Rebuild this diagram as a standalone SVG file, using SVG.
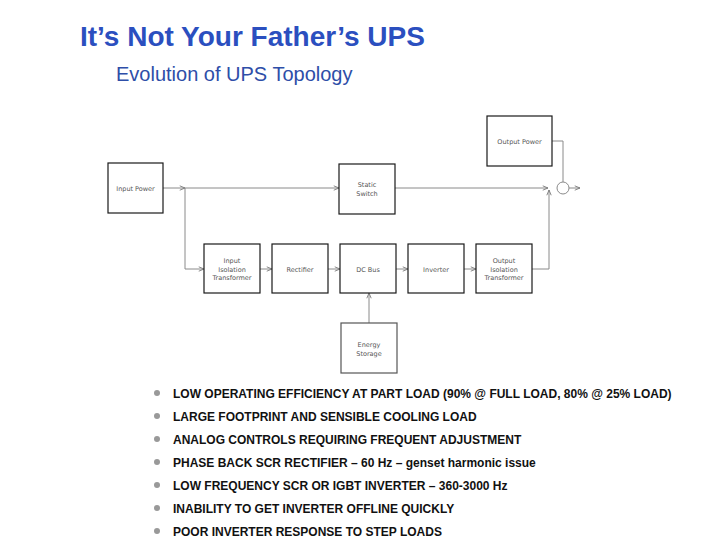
<svg xmlns="http://www.w3.org/2000/svg" width="720" height="540" viewBox="0 0 720 540">
<style>
.box{fill:#fff;stroke:#1a1a1a;stroke-width:1.2}
.lbl{font-family:"DejaVu Sans","Liberation Sans",sans-serif;font-size:6.5px;fill:#555;text-anchor:middle}
.ln{fill:none;stroke:#8a8a8a;stroke-width:1}
.bt{font-family:"Liberation Sans",Arial,sans-serif;font-size:12px;font-weight:bold;fill:#111}
.dot{fill:#999}
</style>
<defs>
<marker id="ah" viewBox="0 0 8 8" refX="7" refY="4" markerWidth="7" markerHeight="7" orient="auto" markerUnits="userSpaceOnUse">
<path d="M1,1.5 L7,4 L1,6.5" fill="none" stroke="#777" stroke-width="1"/>
</marker>
</defs>
<rect width="720" height="540" fill="#fff"/>
<text x="80" y="46" font-family="Liberation Sans,Arial,sans-serif" font-size="28" font-weight="bold" fill="#2b4fbf">It’s Not Your Father’s UPS</text>
<text x="116" y="81" font-family="Liberation Sans,Arial,sans-serif" font-size="20" fill="#2e4ea8">Evolution of UPS Topology</text>

<g id="connectors">
<line class="ln" x1="163" y1="188" x2="185" y2="188" marker-end="url(#ah)"/>
<line class="ln" x1="185" y1="188" x2="339" y2="188" marker-end="url(#ah)"/>
<polyline class="ln" points="185,188 185,269 204,269" marker-end="url(#ah)"/>
<line class="ln" x1="260" y1="269" x2="272" y2="269" marker-end="url(#ah)"/>
<line class="ln" x1="328" y1="269" x2="340" y2="269" marker-end="url(#ah)"/>
<line class="ln" x1="396" y1="269" x2="408" y2="269" marker-end="url(#ah)"/>
<line class="ln" x1="464" y1="269" x2="476" y2="269" marker-end="url(#ah)"/>
<line class="ln" x1="369" y1="323" x2="369" y2="293" marker-end="url(#ah)"/>
<line class="ln" x1="395" y1="188" x2="548" y2="188" marker-end="url(#ah)"/>
<polyline class="ln" points="532,269 549,269 549,190" marker-end="url(#ah)"/>
<polyline class="ln" points="552,141 563,141 563,182"/>
<circle class="ln" cx="563" cy="188" r="6"/>
<line class="ln" x1="569" y1="188" x2="580" y2="188" marker-end="url(#ah)"/>
</g>

<g id="input-power"><rect class="box" x="108" y="163" width="55" height="50"/><text class="lbl" x="135.5" y="190.5">Input Power</text></g>
<g id="static-switch"><rect class="box" x="339" y="164" width="56" height="50"/><text class="lbl" x="367" y="187">Static</text><text class="lbl" x="367" y="196">Switch</text></g>
<g id="output-power"><rect class="box" x="487" y="116" width="65" height="50"/><text class="lbl" x="519.5" y="143.5">Output Power</text></g>
<g id="input-isolation-transformer"><rect class="box" x="204" y="244" width="56" height="49"/><text class="lbl" x="232" y="263">Input</text><text class="lbl" x="232" y="271.5">Isolation</text><text class="lbl" x="232" y="280">Transformer</text></g>
<g id="rectifier"><rect class="box" x="272" y="244" width="56" height="49"/><text class="lbl" x="300" y="271.5">Rectifier</text></g>
<g id="dc-bus"><rect class="box" x="340" y="244" width="56" height="49"/><text class="lbl" x="368" y="271.5">DC Bus</text></g>
<g id="inverter"><rect class="box" x="408" y="244" width="56" height="49"/><text class="lbl" x="436" y="271.5">Inverter</text></g>
<g id="output-isolation-transformer"><rect class="box" x="476" y="244" width="56" height="49"/><text class="lbl" x="504" y="263">Output</text><text class="lbl" x="504" y="271.5">Isolation</text><text class="lbl" x="504" y="280">Transformer</text></g>
<g id="energy-storage"><rect class="box" x="341" y="323" width="56" height="50" style="stroke:#555"/><text class="lbl" x="369" y="347">Energy</text><text class="lbl" x="369" y="356">Storage</text></g>

<g id="bullets">
<circle class="dot" cx="157" cy="393" r="3"/><text class="bt" x="173" y="397.5">LOW OPERATING EFFICIENCY AT PART LOAD (90% @ FULL LOAD, 80% @ 25% LOAD)</text>
<circle class="dot" cx="157" cy="416" r="3"/><text class="bt" x="173" y="420.5">LARGE FOOTPRINT AND SENSIBLE COOLING LOAD</text>
<circle class="dot" cx="157" cy="439" r="3"/><text class="bt" x="173" y="443.5">ANALOG CONTROLS REQUIRING FREQUENT ADJUSTMENT</text>
<circle class="dot" cx="157" cy="462" r="3"/><text class="bt" x="173" y="466.5">PHASE BACK SCR RECTIFIER – 60 Hz – genset harmonic issue</text>
<circle class="dot" cx="157" cy="485" r="3"/><text class="bt" x="173" y="489.5">LOW FREQUENCY SCR OR IGBT INVERTER – 360-3000 Hz</text>
<circle class="dot" cx="157" cy="508" r="3"/><text class="bt" x="173" y="512.5">INABILITY TO GET INVERTER OFFLINE QUICKLY</text>
<circle class="dot" cx="157" cy="531" r="3"/><text class="bt" x="173" y="535.5">POOR INVERTER RESPONSE TO STEP LOADS</text>
</g>
</svg>
